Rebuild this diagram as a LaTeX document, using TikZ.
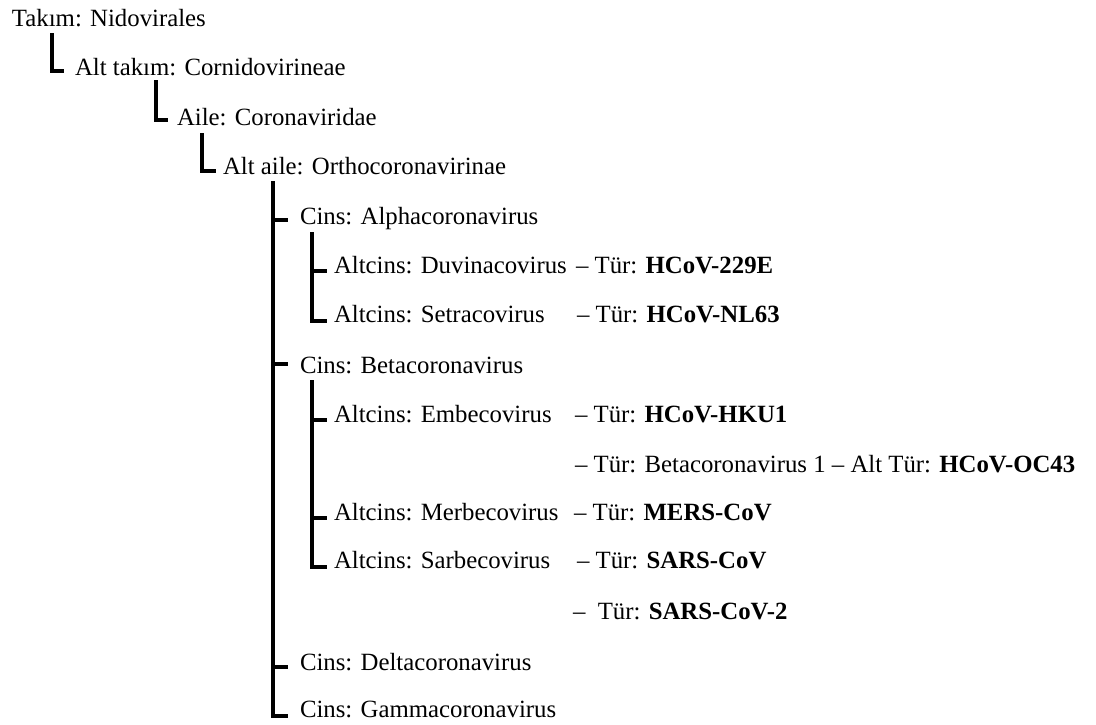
\documentclass[tikz,border=0pt]{standalone}
\usepackage{fontspec}
\setmainfont{Liberation Serif}
\begin{document}
\begin{tikzpicture}[x=1pt,y=-1pt,
  lbl/.style={anchor=base west,inner sep=0pt,outer sep=0pt,font=\fontsize{24.8}{30}\selectfont},
  conn/.style={line width=4pt,line cap=butt,line join=miter}]
\useasboundingbox (0,0) rectangle (1096,724);
% taxa
\node[lbl] (ord)    at (12,26)  {Takım: Nidovirales};
\node[lbl] (sord)   at (75,75)  {Alt takım: Cornidovirineae};
\node[lbl] (fam)    at (177,125) {Aile: Coronaviridae};
\node[lbl] (sfam)   at (223,174) {Alt aile: Orthocoronavirinae};
\node[lbl] (alpha)  at (300,224) {Cins: Alphacoronavirus};
\node[lbl] (duvina) at (334,273) {Altcins: Duvinacovirus};
\node[lbl] (setra)  at (334,322) {Altcins: Setracovirus};
\node[lbl] (beta)   at (300,373) {Cins: Betacoronavirus};
\node[lbl] (embe)   at (334,422) {Altcins: Embecovirus};
\node[lbl] (merbe)  at (334,520) {Altcins: Merbecovirus};
\node[lbl] (sarbe)  at (334,568) {Altcins: Sarbecovirus};
\node[lbl] (delta)  at (300,670) {Cins: Deltacoronavirus};
\node[lbl] (gamma)  at (300,717) {Cins: Gammacoronavirus};
% species
\node[lbl] (s229e)  at (576,273) {– Tür: \textbf{HCoV-229E}};
\node[lbl] (snl63)  at (577,322) {– Tür: \textbf{HCoV-NL63}};
\node[lbl] (shku1)  at (575,422) {– Tür: \textbf{HCoV-HKU1}};
\node[lbl] (soc43)  at (575,472) {– Tür: Betacoronavirus 1 – Alt Tür: \textbf{HCoV-OC43}};
\node[lbl] (smers)  at (574,520) {– Tür: \textbf{MERS-CoV}};
\node[lbl] (ssars)  at (577,568) {– Tür: \textbf{SARS-CoV}};
\node[lbl] (ssars2) at (573,619) {–\hspace{0.5em}Tür: \textbf{SARS-CoV-2}};
% connector tops
\coordinate (t1) at ([xshift=40pt,yshift=-7pt]ord.base west);
\coordinate (t2) at ([xshift=81pt,yshift=-5pt]sord.base west);
\coordinate (t3) at ([xshift=25pt,yshift=-8pt]fam.base west);
\coordinate (t4) at ([xshift=50pt,yshift=-7pt]sfam.base west);
\coordinate (t5) at ([xshift=12pt,yshift=-8pt]alpha.base west);
\coordinate (t6) at ([xshift=12pt,yshift=-7pt]beta.base west);
% tick ends
\coordinate (e1) at ([xshift=-11pt,yshift=4pt]sord.base west);
\coordinate (e2) at ([xshift=-9pt,yshift=5pt]fam.base west);
\coordinate (e3) at ([xshift=-7pt,yshift=3pt]sfam.base west);
\coordinate (eA) at ([xshift=-12pt,yshift=4pt]alpha.base west);
\coordinate (eB) at ([xshift=-12pt,yshift=9pt]beta.base west);
\coordinate (eD) at ([xshift=-12pt,yshift=3pt]delta.base west);
\coordinate (eG) at ([xshift=-12pt,yshift=1pt]gamma.base west);
\coordinate (eDu) at ([xshift=-7pt,yshift=2pt]duvina.base west);
\coordinate (eSe) at ([xshift=-7pt,yshift=1pt]setra.base west);
\coordinate (eEm) at ([xshift=-7pt,yshift=2pt]embe.base west);
\coordinate (eMe) at ([xshift=-7pt,yshift=2pt]merbe.base west);
\coordinate (eSa) at ([xshift=-7pt,yshift=1pt]sarbe.base west);
% connectors
\draw[conn] (t1) |- (e1);
\draw[conn] (t2) |- (e2);
\draw[conn] (t3) |- (e3);
\draw[conn] (t4) |- (eG);
\draw[conn] (t4 |- eA) -- (eA);
\draw[conn] (t4 |- eB) -- (eB);
\draw[conn] (t4 |- eD) -- (eD);
\draw[conn] (t5) |- (eSe);
\draw[conn] (t5 |- eDu) -- (eDu);
\draw[conn] (t6) |- (eSa);
\draw[conn] (t6 |- eEm) -- (eEm);
\draw[conn] (t6 |- eMe) -- (eMe);
\end{tikzpicture}
\end{document}
